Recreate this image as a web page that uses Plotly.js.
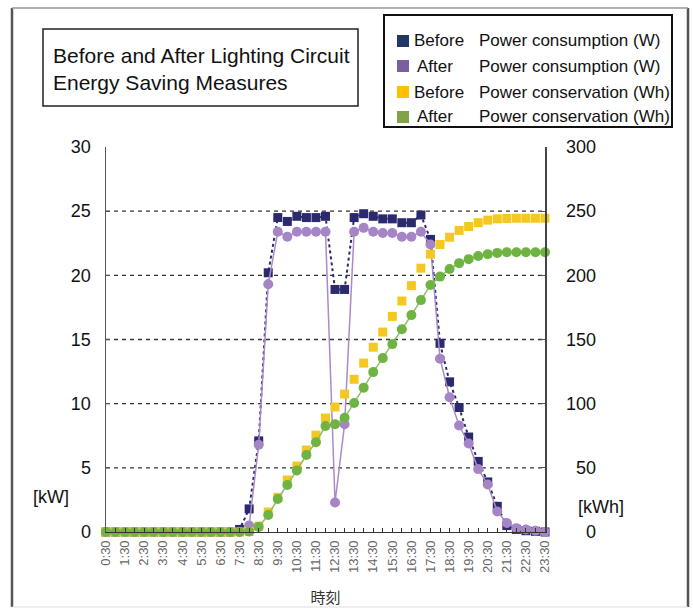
<!DOCTYPE html>
<html>
<head>
<meta charset="utf-8">
<script src="https://cdn.plot.ly/plotly-3.0.1.min.js"></script>
<style>html,body{margin:0;padding:0;background:#fff;}#chart{width:693px;height:610px;}</style>
</head>
<body>
<div id="chart"></div>
<script>
// ---- data ----
const times = ["0:30","1:00","1:30","2:00","2:30","3:00","3:30","4:00","4:30","5:00","5:30","6:00","6:30","7:00","7:30",
  "8:00","8:30","9:00","9:30","10:00","10:30","11:00","11:30","12:00","12:30","13:00","13:30","14:00","14:30","15:00","15:30",
  "16:00","16:30","17:00","17:30","18:00","18:30","19:00","19:30","20:00","20:30","21:00","21:30","22:00","22:30","23:00","23:30"];
const tickLabels = ["0:30","1:30","2:30","3:30","4:30","5:30","6:30","7:30","8:30","9:30","10:30","11:30","12:30","13:30",
  "14:30","15:30","16:30","17:30","18:30","19:30","20:30","21:30","22:30","23:30"];
// kW
const beforePower = [0,0,0,0,0,0,0,0,0,0,0,0,0,0,0.2,
  1.8,7.1,20.2,24.5,24.2,24.6,24.5,24.5,24.6,18.9,18.9,24.5,24.8,24.6,24.4,24.4,
  24.1,24.1,24.7,22.8,14.7,11.7,9.7,7.4,5.5,3.9,2.0,0.5,0.2,0.1,0.05,0];
const afterPower = [0,0,0,0,0,0,0,0,0,0,0,0,0,0,0,
  0.5,6.8,19.3,23.4,23.0,23.4,23.4,23.4,23.4,2.3,8.4,23.4,23.7,23.4,23.3,23.3,
  23.0,23.0,23.4,22.4,13.5,10.5,8.3,6.9,4.9,3.7,1.6,0.7,0.3,0.2,0.1,0];
// kWh
const beforeEnergy = [0,0,0,0,0,0,0,0,0,0,0,0,0,0,0,
  0.5,4.5,15.6,27,40.5,51.4,63.9,75.5,88.8,97.4,107.5,119,131.6,144,155.8,168,
  180,192,205.6,216.5,224,229.7,235,238,241,243,244,244.3,244.5,244.5,244.5,244.5];
const afterEnergy = [0,0,0,0,0,0,0,0,0,0,0,0,0,0,0,
  0.3,4,13.2,25.7,36.6,48,60,70,82.6,84,89,100.5,112.5,124.6,135.5,146.4,
  158,169,180.7,192.5,199,205,209.5,212.6,215,216.5,217.5,218,218,218,218,218];
const leftTicks = [0,5,10,15,20,25,30];
const rightTicks = [0,50,100,150,200,250,300];
const gridLevels = [5,10,15,20,25];
const titleText = "Before and After Lighting Circuit<br>Energy Saving Measures";
const legendRows = [
  {tag:"Before", label:"Power consumption (W)"},
  {tag:"After", label:"Power consumption (W)"},
  {tag:"Before", label:"Power conservation (Wh)"},
  {tag:"After", label:"Power conservation (Wh)"}
];

// ---- layout helpers ----
const W = 693, H = 610;
const M = {l:106, r:148, t:147, b:78};
const PW = W - M.l - M.r, PH = H - M.t - M.b;
const px = x => (x - M.l) / PW;
const py = y => (H - M.b - y) / PH;
const FONT = "Liberation Sans, Arial, sans-serif";

const legendColors = ["#1F3864", "#7B5EA0", "#FFC000", "#7FA346"];
const legendY = [41, 66, 92, 117];

const traces = [
  {x: times, y: beforePower, name: "Before Power consumption (W)", yaxis: "y", mode: "lines+markers",
   line: {color: "#2B2A6E", width: 2, dash: "dot"},
   marker: {symbol: "square", size: 9, color: "#2B2A6E"}, cliponaxis: false},
  {x: times, y: afterPower, name: "After Power consumption (W)", yaxis: "y", mode: "lines+markers",
   line: {color: "#A98BC8", width: 1.5},
   marker: {symbol: "circle", size: 10, color: "#A585C5"}, cliponaxis: false},
  {x: times, y: beforeEnergy, name: "Before Power conservation (Wh)", yaxis: "y2", mode: "markers",
   marker: {symbol: "square", size: 9, color: "#F4C820"}, cliponaxis: false},
  {x: times, y: afterEnergy, name: "After Power conservation (Wh)", yaxis: "y2", mode: "lines+markers",
   line: {color: "#8CC063", width: 1.5},
   marker: {symbol: "circle", size: 10, color: "#6FB443"}, cliponaxis: false}
];

const shapes = [];
// grid lines (data coords on left axis)
gridLevels.forEach(v => shapes.push({type:"line", xref:"paper", yref:"y", x0:0, x1:1, y0:v, y1:v,
  line:{color:"#333", width:1.3, dash:"4px,4px"}, layer:"below"}));
// outer frame
shapes.push({type:"line", xref:"paper", yref:"paper", x0:px(12), x1:px(12), y0:py(8), y1:py(607), line:{color:"#555", width:2.5}});
shapes.push({type:"line", xref:"paper", yref:"paper", x0:px(688), x1:px(688), y0:py(8), y1:py(607), line:{color:"#555", width:2.5}});
shapes.push({type:"line", xref:"paper", yref:"paper", x0:px(12), x1:px(688), y0:py(8), y1:py(8), line:{color:"#999", width:1.5}});
shapes.push({type:"line", xref:"paper", yref:"paper", x0:px(12), x1:px(688), y0:py(607), y1:py(607), line:{color:"#ddd", width:1}});
// title box
shapes.push({type:"rect", xref:"paper", yref:"paper", x0:px(43), x1:px(358), y0:py(29), y1:py(106), line:{color:"#222", width:1.5}});
// legend box
shapes.push({type:"rect", xref:"paper", yref:"paper", x0:px(384), x1:px(672), y0:py(15), y1:py(127), line:{color:"#111", width:2}});
legendColors.forEach((c,i) => shapes.push({type:"rect", xref:"paper", yref:"paper",
  x0:px(397), x1:px(409), y0:py(legendY[i]-6), y1:py(legendY[i]+6), fillcolor:c, line:{width:0}}));

const annotations = [
  {xref:"paper", yref:"paper", x:px(51), y:py(68.5), xanchor:"left", yanchor:"middle", align:"left",
   text:titleText, showarrow:false, font:{family:FONT, size:21, color:"#111"}},
  {xref:"paper", yref:"paper", x:px(51), y:py(497), xanchor:"center", yanchor:"middle",
   text:"[kW]", showarrow:false, font:{family:FONT, size:18, color:"#111"}},
  {xref:"paper", yref:"paper", x:px(601), y:py(507), xanchor:"center", yanchor:"middle",
   text:"[kWh]", showarrow:false, font:{family:FONT, size:18, color:"#111"}}
];
legendRows.forEach((r,i) => {
  annotations.push({xref:"paper", yref:"paper", x:px(r.tag === "Before" ? 412 : 415), y:py(legendY[i]), xanchor:"left", yanchor:"middle",
    text:r.tag, showarrow:false, font:{family:FONT, size:17, color:"#111"}});
  annotations.push({xref:"paper", yref:"paper", x:px(477), y:py(legendY[i]), xanchor:"left", yanchor:"middle",
    text:r.label, showarrow:false, font:{family:FONT, size:17, color:"#111"}});
});

const pad = s => "\u2007".repeat(3 - s.length) + s;

const layout = {
  width: W, height: H,
  margin: M,
  paper_bgcolor: "#fff", plot_bgcolor: "#fff",
  showlegend: false,
  font: {family: FONT, color: "#111"},
  xaxis: {
    type: "category", range: [0, times.length - 1],
    tickmode: "array", tickvals: times,
    ticktext: times.map(t => tickLabels.includes(t) ? t : ""),
    tickangle: -90, ticks: "inside", ticklen: 4, tickcolor: "#333",
    tickfont: {family: FONT, size: 13, color: "#666"}, ticklabelstandoff: 2,
    showline: true, linecolor: "#333", linewidth: 1.2,
    showgrid: false, zeroline: false,
    title: {text: "時刻", font: {family: "Noto Sans CJK JP", size: 15, color: "#333"}, standoff: 20}
  },
  yaxis: {
    range: [0, 30], tickmode: "array", tickvals: leftTicks, ticktext: leftTicks.map(String),
    ticks: "inside", ticklen: 4, tickcolor: "#555",
    tickfont: {family: FONT, size: 18, color: "#111"}, ticklabelstandoff: 10,
    showline: true, linecolor: "#555", linewidth: 1.5,
    showgrid: false, zeroline: false
  },
  yaxis2: {
    overlaying: "y", side: "right",
    range: [0, 300], tickmode: "array", tickvals: rightTicks, ticktext: rightTicks.map(v => pad(String(v))),
    ticks: "inside", ticklen: 4, tickcolor: "#555",
    tickfont: {family: FONT, size: 18, color: "#111"}, ticklabelstandoff: 16,
    showline: true, linecolor: "#444", linewidth: 1.5,
    showgrid: false, zeroline: false
  },
  shapes: shapes,
  annotations: annotations
};

Plotly.newPlot("chart", traces, layout, {displayModeBar: false, staticPlot: true});
</script>
</body>
</html>
